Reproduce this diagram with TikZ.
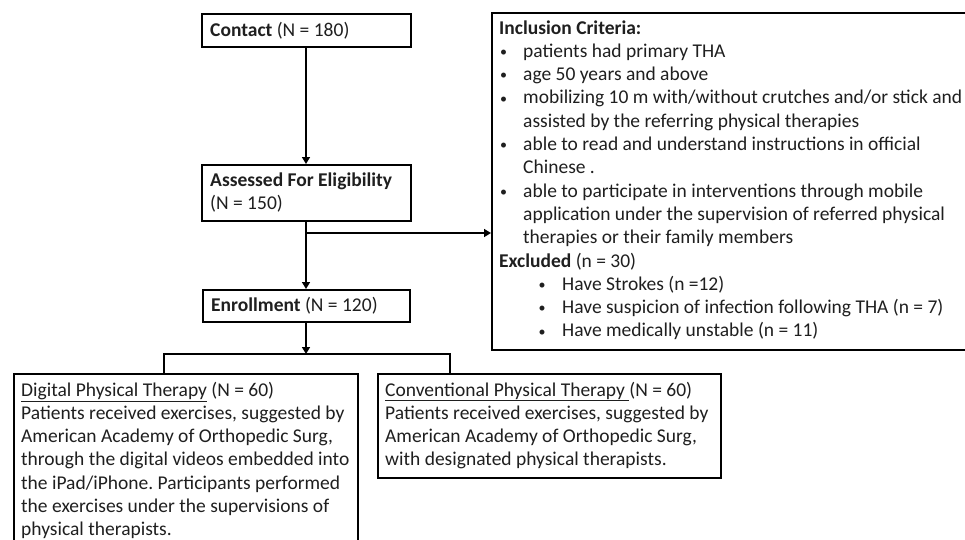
\documentclass[tikz,border=0pt]{standalone}
\usepackage{fontspec}
\setmainfont{Carlito}
\usetikzlibrary{arrows.meta}
\frenchspacing
\newcommand\smbul{\raisebox{0.8pt}{\scalebox{0.72}{•}}}
\newcommand\bulx{\makebox[24pt][l]{\hspace{1pt}\smbul}}
\newcommand\sbulx{\hspace*{39.5pt}\makebox[23.5pt][l]{\smbul}}
\newcommand\indx{\hspace*{24pt}}
\begin{document}
\begin{tikzpicture}[x=1pt,y=-1pt,
  boxst/.style={draw=black, line width=1.6pt, rectangle, inner sep=0pt, anchor=north west},
  txt/.style={anchor=base west, inner sep=0pt, text=black!88, font=\fontsize{19.5}{23.3}\selectfont},
  conn/.style={draw=black, line width=1.5pt},
  arr/.style={conn, -{Triangle[width=8pt,length=7pt]}}]
\clip (0,0) rectangle (965,539);
\fill[white] (0,0) rectangle (965,539);
% boxes
\node[boxst, minimum width=209pt, minimum height=33pt] (contact) at (201,13) {};
\node[boxst, minimum width=209pt, minimum height=56pt] (assessed) at (201,164) {};
\node[boxst, minimum width=207pt, minimum height=32pt] (enroll) at (202,289) {};
\node[boxst, minimum width=490pt, minimum height=337pt] (incl) at (491,12) {};
\node[boxst, minimum width=344pt, minimum height=190pt] (digital) at (13,373) {};
\node[boxst, minimum width=343pt, minimum height=104pt] (conv) at (377,373) {};
% texts
\node[txt] (tcontact) at (210,36) {\textbf{Contact} (N = 180)};
\node[txt] (tassessed) at (210,186) {\parbox[t]{190pt}{\textbf{Assessed For Eligibility}\\(N = 150)}};
\node[txt] (tenroll) at (211,311) {\textbf{Enrollment} (N = 120)};
\node[txt] (tincl) at (499,34) {\parbox[t]{470pt}{%
\textbf{Inclusion Criteria:}\\
\bulx patients had primary THA\\
\bulx age 50 years and above\\
\bulx mobilizing 10 m with/without crutches and/or stick and\\
\indx assisted by the referring physical therapies\\
\bulx able to read and understand instructions in official\\
\indx Chinese .\\
\bulx able to participate in interventions through mobile\\
\indx application under the supervision of referred physical\\
\indx therapies or their family members\\
\textbf{Excluded} (n = 30)\\
\sbulx Have Strokes (n =12)\\
\sbulx Have suspicion of infection following THA (n = 7)\\
\sbulx Have medically unstable (n = 11)}};
\node[txt] (tdigital) at (21,396) {\parbox[t]{340pt}{%
\underline{Digital Physical Therapy} (N = 60)\\
Patients received exercises, suggested by\\
American Academy of Orthopedic Surg,\\
through the digital videos embedded into\\
the iPad/iPhone. Participants performed\\
the exercises under the supervisions of\\
physical therapists.}};
\node[txt] (tconv) at (385,396) {\parbox[t]{340pt}{%
\underline{Conventional Physical Therapy\ }(N = 60)\\
Patients received exercises, suggested by\\
American Academy of Orthopedic Surg,\\
with designated physical therapists.}};
% connectors
\coordinate (j1) at (306,233);
\coordinate (j2) at (306,354);
\coordinate (bl) at (164,354);
\coordinate (br) at (450,354);
\draw[arr] (contact.south -| j1) -- (assessed.north -| j1);
\draw[arr] (assessed.south -| j1) -- (enroll.north -| j1);
\draw[arr] (j1) -- (incl.west |- j1);
\draw[arr] (enroll.south -| j2) -- (j2);
\draw[conn] (bl |- digital.north) -- (bl) -- (br) -- (br |- conv.north);
\end{tikzpicture}
\end{document}
